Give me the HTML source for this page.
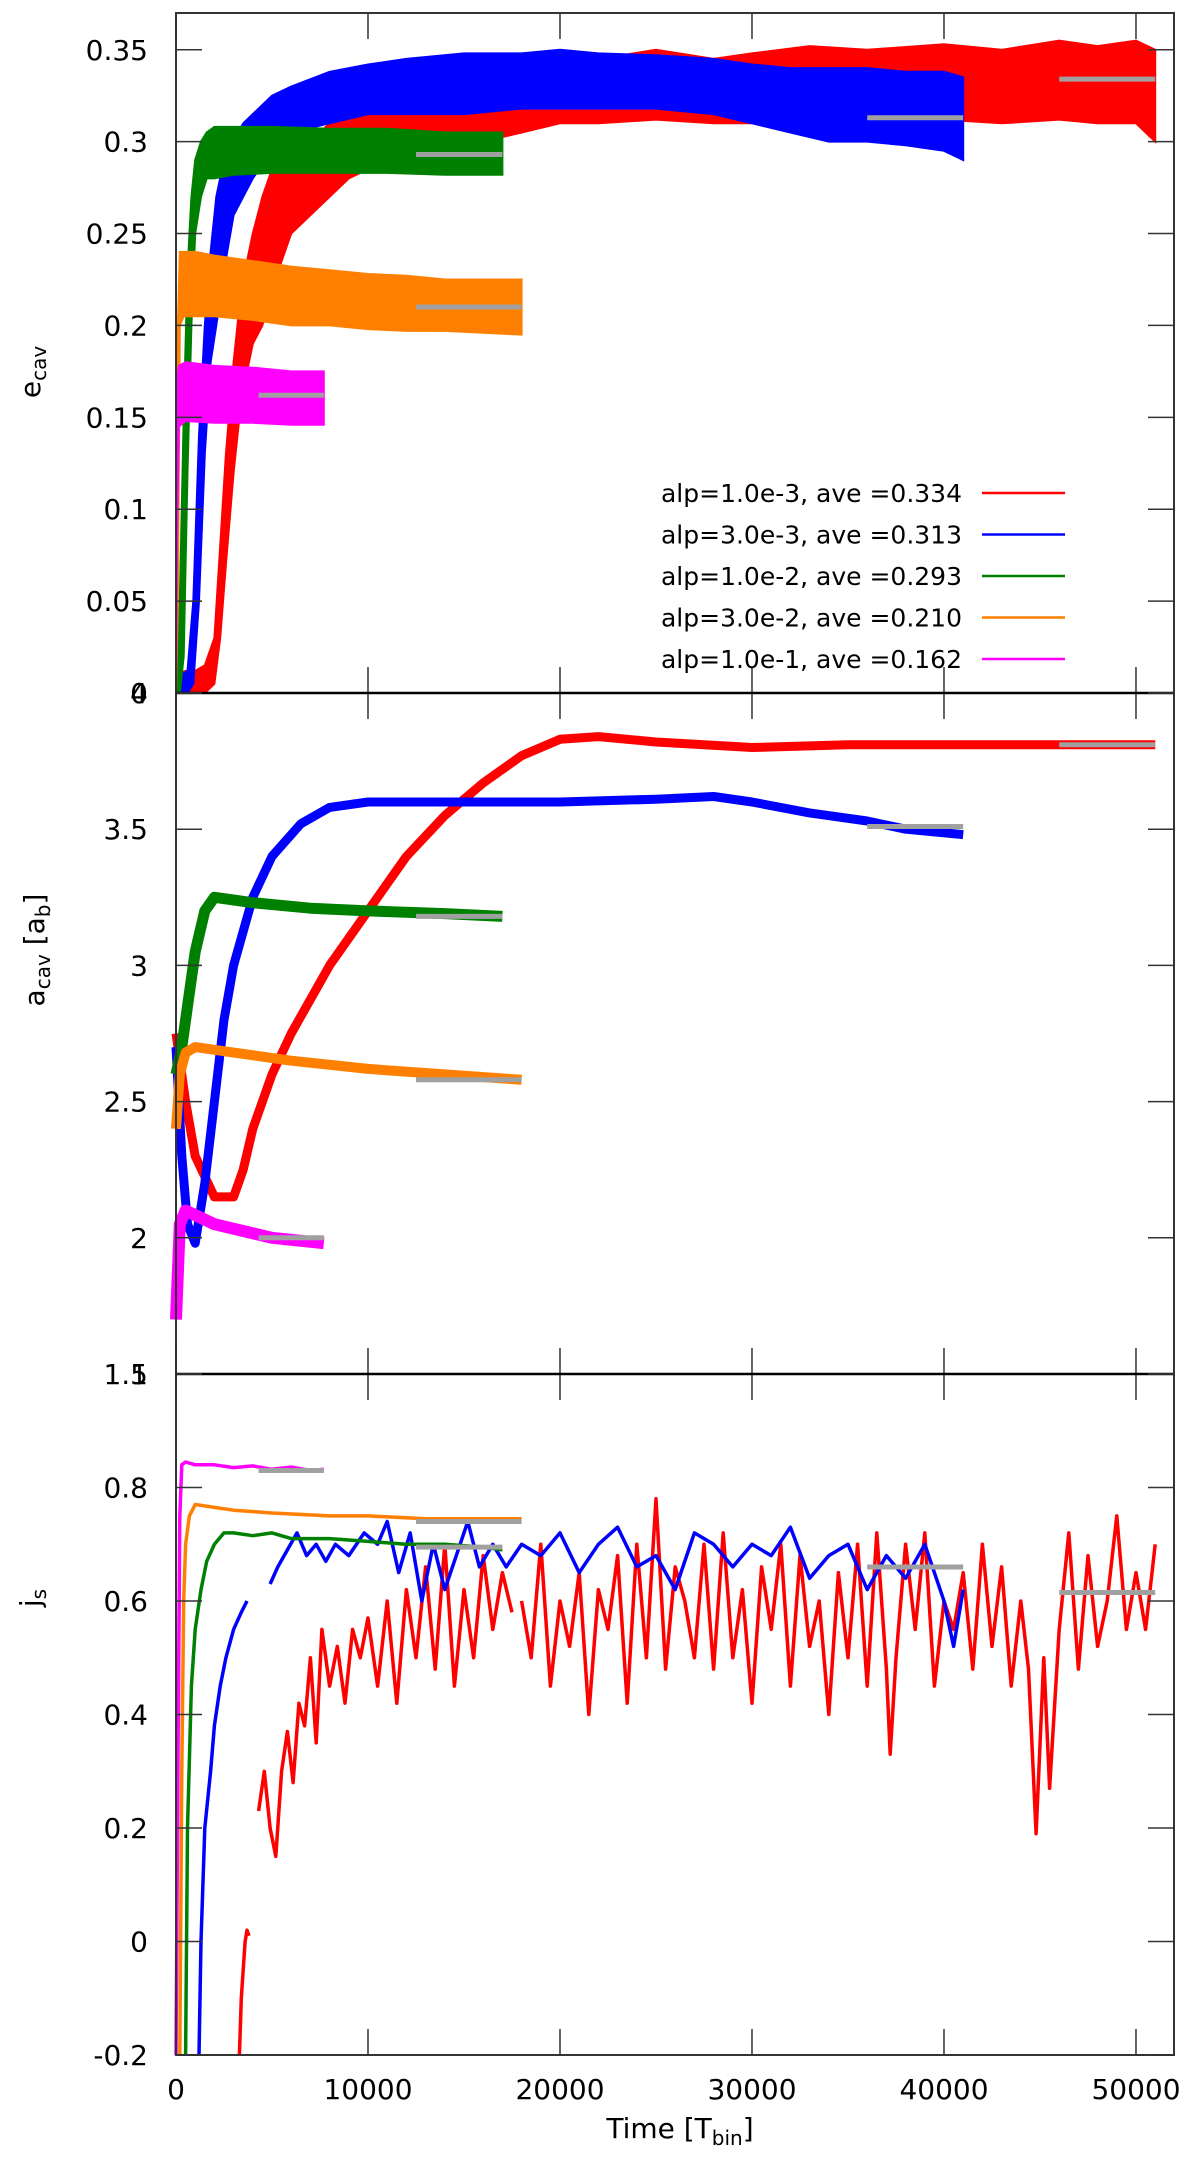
<!DOCTYPE html>
<html><head><meta charset="utf-8"><style>
html,body{margin:0;padding:0;background:#fff}
svg{display:block}
text{font-family:"DejaVu Sans","Liberation Sans",sans-serif;fill:#000}
</style></head><body>
<svg id="chart" width="1200" height="2176" viewBox="0 0 1200 2176" xmlns="http://www.w3.org/2000/svg">
<g id="layer-data"></g>
<g id="layer-axes"></g>
</svg>
<script>
// ---- data (time in thousands of T_bin) ----
const xTicks=[0,10000,20000,30000,40000,50000];
const eTicks=[0,0.05,0.1,0.15,0.2,0.25,0.3,0.35];
const aTicks=[1.5,2,2.5,3,3.5,4];
const jTicks=[-0.2,0,0.2,0.4,0.6,0.8,1];
const legendLabels=["alp=1.0e-3, ave =0.334","alp=3.0e-3, ave =0.313","alp=1.0e-2, ave =0.293","alp=3.0e-2, ave =0.210","alp=1.0e-1, ave =0.162"];
const seriesNames=["red","blue","green","orange","magenta"];
// panel 1 envelopes
const eRedT=[0,0.5,1,1.5,2,2.3,2.6,3,3.3,3.6,4,4.5,5,6,7,8,9,10,12,14,16,18,20,22,25,28,30,33,36,40,43,46,48,50,51];
const eRedLo=[0,0,0,0,0.005,0.03,0.07,0.12,0.15,0.17,0.19,0.2,0.22,0.25,0.26,0.27,0.28,0.285,0.29,0.295,0.3,0.305,0.31,0.31,0.312,0.31,0.31,0.313,0.31,0.312,0.31,0.312,0.31,0.31,0.3];
const eRedHi=[0.01,0.012,0.012,0.015,0.03,0.08,0.13,0.18,0.21,0.23,0.25,0.27,0.285,0.295,0.3,0.31,0.315,0.32,0.325,0.33,0.335,0.34,0.345,0.345,0.35,0.345,0.348,0.352,0.35,0.353,0.35,0.355,0.352,0.355,0.35];
const eBlueT=[0,0.3,0.6,0.9,1.2,1.5,1.8,2.1,2.5,3,3.5,4,5,6,8,10,12,15,18,20,22,25,28,30,32,34,36,38,40,41];
const eBlueLo=[0,0,0,0.005,0.05,0.13,0.18,0.2,0.23,0.26,0.27,0.28,0.295,0.305,0.31,0.315,0.315,0.315,0.318,0.318,0.318,0.318,0.315,0.31,0.305,0.3,0.3,0.298,0.295,0.29];
const eBlueHi=[0.01,0.01,0.012,0.05,0.14,0.2,0.24,0.27,0.29,0.3,0.31,0.315,0.325,0.33,0.338,0.342,0.345,0.348,0.348,0.35,0.348,0.347,0.345,0.342,0.34,0.34,0.34,0.338,0.338,0.335];
const eGreenT=[0,0.2,0.4,0.6,0.8,1,1.3,1.6,2,3,5,8,11,14,17];
const eGreenLo=[0,0,0.02,0.12,0.2,0.25,0.27,0.28,0.28,0.282,0.283,0.283,0.283,0.282,0.282];
const eGreenHi=[0.01,0.05,0.15,0.23,0.27,0.29,0.3,0.305,0.308,0.308,0.308,0.307,0.307,0.305,0.305];
const eOrangeT=[0,0.1,0.2,0.4,1,2,4,6,8,10,12,14,16,18];
const eOrangeLo=[0,0.05,0.2,0.205,0.205,0.205,0.203,0.2,0.2,0.198,0.197,0.197,0.196,0.195];
const eOrangeHi=[0.03,0.2,0.24,0.24,0.24,0.238,0.235,0.232,0.23,0.228,0.227,0.225,0.225,0.225];
const eMagT=[0,0.05,0.15,0.5,2,4,6,7.7];
const eMagLo=[0,0.08,0.145,0.148,0.147,0.147,0.146,0.146];
const eMagHi=[0.1,0.17,0.178,0.18,0.178,0.177,0.175,0.175];
// panel 2 midlines
const aRedT=[0,0.5,1,2,3,3.5,4,5,6,8,10,12,14,16,18,20,22,25,30,35,40,45,51];
const aRed=[2.75,2.5,2.3,2.15,2.15,2.25,2.4,2.6,2.75,3.0,3.2,3.4,3.55,3.67,3.77,3.83,3.84,3.82,3.8,3.81,3.81,3.81,3.81];
const aBlueT=[0,0.3,0.6,1,1.5,2,2.5,3,4,5,6.5,8,10,15,20,25,28,30,33,36,38,41];
const aBlue=[2.7,2.3,2.05,1.98,2.2,2.5,2.8,3.0,3.25,3.4,3.52,3.58,3.6,3.6,3.6,3.61,3.62,3.6,3.56,3.53,3.5,3.48];
const aGreenT=[0,0.3,0.6,1,1.5,2,4,7,10,14,17];
const aGreen=[2.6,2.7,2.85,3.05,3.2,3.25,3.23,3.21,3.2,3.19,3.18];
const aOrangeT=[0,0.2,0.5,1,3,6,10,14,18];
const aOrange=[2.4,2.6,2.68,2.7,2.68,2.65,2.62,2.6,2.58];
const aMagT=[0,0.2,0.5,2,5,7.7];
const aMag=[1.7,2.05,2.1,2.05,2.0,1.98];
// panel 3 lines
const jMagT=[0,0.1,0.2,0.3,0.5,1,2,3,4,5,6,7,7.7];
const jMag=[-0.2,0.3,0.75,0.84,0.845,0.84,0.84,0.835,0.838,0.832,0.836,0.83,0.832];
const jOrangeT=[0.2,0.3,0.4,0.5,0.7,1,2,3,5,8,10,13,16,18];
const jOrange=[-0.2,0.3,0.6,0.7,0.75,0.77,0.765,0.76,0.755,0.75,0.75,0.745,0.745,0.745];
const jGreenT=[0.5,0.6,0.8,1,1.3,1.6,2,2.5,3,4,5,6,8,10,12,14,16,17];
const jGreen=[-0.2,0.2,0.45,0.55,0.62,0.67,0.7,0.72,0.72,0.715,0.72,0.71,0.71,0.705,0.7,0.7,0.695,0.69];
const jBlue1T=[1.2,1.3,1.5,1.8,2,2.3,2.6,3,3.4,3.7];
const jBlue1=[-0.2,0.0,0.2,0.3,0.38,0.45,0.5,0.55,0.58,0.6];
const jBlue2T=[4.9,5.3,5.8,6.3,6.8,7.3,7.8,8.3,9,9.8,10.5,11,11.6,12.2,12.8,13.4,14,14.6,15.2,15.8,16.5,17.2,18,19,20,21,22,23,24,25,26,27,28,29,30,31,32,33,34,35,36,37,38,39,40,40.5,41];
const jBlue2=[0.63,0.66,0.69,0.72,0.68,0.7,0.67,0.7,0.68,0.72,0.7,0.74,0.65,0.72,0.6,0.7,0.62,0.68,0.74,0.66,0.7,0.66,0.7,0.68,0.72,0.65,0.7,0.73,0.66,0.68,0.62,0.72,0.7,0.66,0.7,0.68,0.73,0.64,0.68,0.7,0.62,0.68,0.64,0.7,0.6,0.52,0.62];
const jRed1T=[3.3,3.4,3.5,3.6,3.7,3.8];
const jRed1=[-0.2,-0.1,-0.05,0.0,0.02,0.01];
const jRed2T=[4.3,4.6,4.9,5.2,5.5,5.8,6.1,6.4,6.7,7,7.3,7.6,8,8.4,8.8,9.2,9.6,10,10.5,11,11.5,12,12.5,13,13.5,14,14.5,15,15.5,16,16.5,17,17.5];
const jRed2=[0.23,0.3,0.2,0.15,0.3,0.37,0.28,0.42,0.38,0.5,0.35,0.55,0.45,0.52,0.42,0.55,0.5,0.57,0.45,0.6,0.42,0.62,0.5,0.66,0.48,0.7,0.45,0.62,0.5,0.68,0.55,0.65,0.58];
const jRed3T=[18,18.5,19,19.5,20,20.5,21,21.5,22,22.5,23,23.5,24,24.5,25,25.5,26,26.5,27,27.5,28,28.5,29,29.5,30,30.5,31,31.5,32,32.5,33,33.5,34,34.5,35,35.5,36,36.5,37,37.2,37.5,38,38.5,39,39.5,40,40.5,41,41.5,42,42.5,43,43.5,44,44.4,44.8,45.2,45.5,46,46.5,47,47.5,48,48.5,49,49.5,50,50.5,51];
const jRed3=[0.6,0.5,0.7,0.45,0.6,0.52,0.65,0.4,0.62,0.55,0.68,0.42,0.7,0.5,0.78,0.48,0.66,0.6,0.5,0.7,0.48,0.72,0.5,0.62,0.42,0.66,0.55,0.7,0.45,0.68,0.52,0.6,0.4,0.65,0.5,0.7,0.45,0.72,0.48,0.33,0.5,0.7,0.55,0.72,0.45,0.6,0.55,0.65,0.48,0.7,0.52,0.66,0.45,0.6,0.48,0.19,0.5,0.27,0.55,0.72,0.48,0.68,0.52,0.6,0.75,0.55,0.65,0.55,0.7];
// averages: [start, end] in thousands, and value
const avgStart=[46,36,12.5,12.5,4.3];
const avgEnd=[51,41,17,18,7.7];
const eAvg=[0.334,0.313,0.293,0.210,0.162];
const aAvg=[3.81,3.51,3.18,2.58,2.0];
const jAvg=[0.615,0.66,0.695,0.74,0.83];

// ---- geometry ----
const colors=["#ff0000","#0000ff","#008000","#ff8000","#ff00ff"];
const L=176,R=1174,XMAX=51.98;
const X=t=>L+(t/XMAX)*(R-L);
const P1={top:13,bot:693,min:0,max:0.37};
const P2={top:693,bot:1374,min:1.5,max:4};
const P3={top:1374,bot:2055,min:-0.2,max:1};
const Y=(p,v)=>p.bot-(v-p.min)/(p.max-p.min)*(p.bot-p.top);
const NS="http://www.w3.org/2000/svg";
const gD=document.getElementById('layer-data'), gA=document.getElementById('layer-axes');
function mk(tag,attrs,parent){const e=document.createElementNS(NS,tag);for(const k in attrs)e.setAttribute(k,attrs[k]);parent.appendChild(e);return e;}

function band(p,T,lo,hi,c,name){
  let pts=T.map((t,i)=>X(t).toFixed(1)+','+Y(p,hi[i]).toFixed(1));
  for(let i=T.length-1;i>=0;i--)pts.push(X(T[i]).toFixed(1)+','+Y(p,lo[i]).toFixed(1));
  const e=mk('polygon',{points:pts.join(' '),fill:c,stroke:c,'stroke-width':2,'stroke-linejoin':'miter'},gD);
  
  
}
function thickLine(p,T,V,c,w,name){
  const e=mk('polyline',{points:T.map((t,i)=>X(t).toFixed(1)+','+Y(p,V[i]).toFixed(1)).join(' '),fill:'none',stroke:c,'stroke-width':w,'stroke-linejoin':'round'},gD);
  
  
}
function avgBars(p,vals,panel){
  vals.forEach((v,i)=>{
    const e=mk('line',{x1:X(avgStart[i]),x2:X(avgEnd[i]),y1:Y(p,v),y2:Y(p,v),stroke:'#a0a0a0','stroke-width':5},gD);
    
    
  });
}
// panel 1
band(P1,eRedT,eRedLo,eRedHi,colors[0],'ecav-red');
band(P1,eBlueT,eBlueLo,eBlueHi,colors[1],'ecav-blue');
band(P1,eGreenT,eGreenLo,eGreenHi,colors[2],'ecav-green');
band(P1,eOrangeT,eOrangeLo,eOrangeHi,colors[3],'ecav-orange');
band(P1,eMagT,eMagLo,eMagHi,colors[4],'ecav-magenta');
avgBars(P1,eAvg,'ecav');
// panel 2
thickLine(P2,aRedT,aRed,colors[0],9,'acav-red');
thickLine(P2,aBlueT,aBlue,colors[1],9,'acav-blue');
thickLine(P2,aGreenT,aGreen,colors[2],11,'acav-green');
thickLine(P2,aOrangeT,aOrange,colors[3],10,'acav-orange');
thickLine(P2,aMagT,aMag,colors[4],12,'acav-magenta');
avgBars(P2,aAvg,'acav');
// panel 3
thickLine(P3,jRed1T,jRed1,colors[0],3.5,'js-red-1');
thickLine(P3,jRed2T,jRed2,colors[0],3.5,'js-red-2');
thickLine(P3,jRed3T,jRed3,colors[0],3.5,'js-red-3');
thickLine(P3,jBlue1T,jBlue1,colors[1],3.5,'js-blue-1');
thickLine(P3,jBlue2T,jBlue2,colors[1],3.5,'js-blue-2');
thickLine(P3,jGreenT,jGreen,colors[2],3.5,'js-green');
thickLine(P3,jOrangeT,jOrange,colors[3],3.5,'js-orange');
thickLine(P3,jMagT,jMag,colors[4],3.5,'js-magenta');
avgBars(P3,jAvg,'js');

// ---- axes ----
const AX='#333';
[P1,P2,P3].forEach((p,pi)=>{
  const r=mk('rect',{x:L,y:p.top,width:R-L,height:p.bot-p.top,fill:'none',stroke:AX,'stroke-width':2},gA);
  
  
  xTicks.forEach(v=>{
    const x=X(v/1000);
    mk('line',{x1:x,x2:x,y1:p.bot,y2:p.bot-26,stroke:AX,'stroke-width':1.5},gA);
    mk('line',{x1:x,x2:x,y1:p.top,y2:p.top+26,stroke:AX,'stroke-width':1.5},gA);
  });
});
[P1,P2].forEach(p=>mk('line',{x1:L,x2:R,y1:p.bot,y2:p.bot,stroke:'#000','stroke-width':2.5},gA));
function yAxis(p,ticks,name){
  ticks.forEach(v=>{
    const y=Y(p,v);
    mk('line',{x1:L,x2:L+26,y1:y,y2:y,stroke:AX,'stroke-width':1.5},gA);
    mk('line',{x1:R,x2:R-26,y1:y,y2:y,stroke:AX,'stroke-width':1.5},gA);
    const t=mk('text',{x:148,y:y+10,'text-anchor':'end','font-size':28},gA);
    t.textContent=String(v);
    
    
  });
}
yAxis(P1,eTicks,'ecav');
yAxis(P2,aTicks,'acav');
yAxis(P3,jTicks,'js');
xTicks.forEach(v=>{
  const t=mk('text',{x:X(v/1000),y:2099,'text-anchor':'middle','font-size':28},gA);
  t.textContent=String(v);
  
  
});
// legend
legendLabels.forEach((s,i)=>{
  const y=493+i*41.5;
  const t=mk('text',{x:962,y:y+9,'text-anchor':'end','font-size':25},gA);
  t.textContent=s;
  
  
  const l=mk('line',{x1:982,x2:1065,y1:y,y2:y,stroke:colors[i],'stroke-width':2.5},gA);
  
  
});
</script>
<div style="position:absolute;left:0;top:0;width:1200px;height:2176px;pointer-events:none">
<svg width="1200" height="2176" style="position:absolute;left:0;top:0">
<text transform="translate(40,372) rotate(-90)" text-anchor="middle" font-size="28" style="font-family:'DejaVu Sans',sans-serif">e<tspan font-size="20" dy="6">cav</tspan></text>
<text transform="translate(44,950) rotate(-90)" text-anchor="middle" font-size="28" style="font-family:'DejaVu Sans',sans-serif">a<tspan font-size="20" dy="6">cav</tspan><tspan dy="-6"> [a</tspan><tspan font-size="20" dy="6">b</tspan><tspan dy="-6">]</tspan></text>
<text transform="translate(40,1598) rotate(-90)" text-anchor="middle" font-size="28" style="font-family:'DejaVu Sans',sans-serif">j<tspan font-size="20" dy="6">s</tspan></text>
<text x="680" y="2138" text-anchor="middle" font-size="28" style="font-family:'DejaVu Sans',sans-serif">Time [T<tspan font-size="20" dy="7">bin</tspan><tspan dy="-7">]</tspan></text>
</svg>
</div>
</body></html>
